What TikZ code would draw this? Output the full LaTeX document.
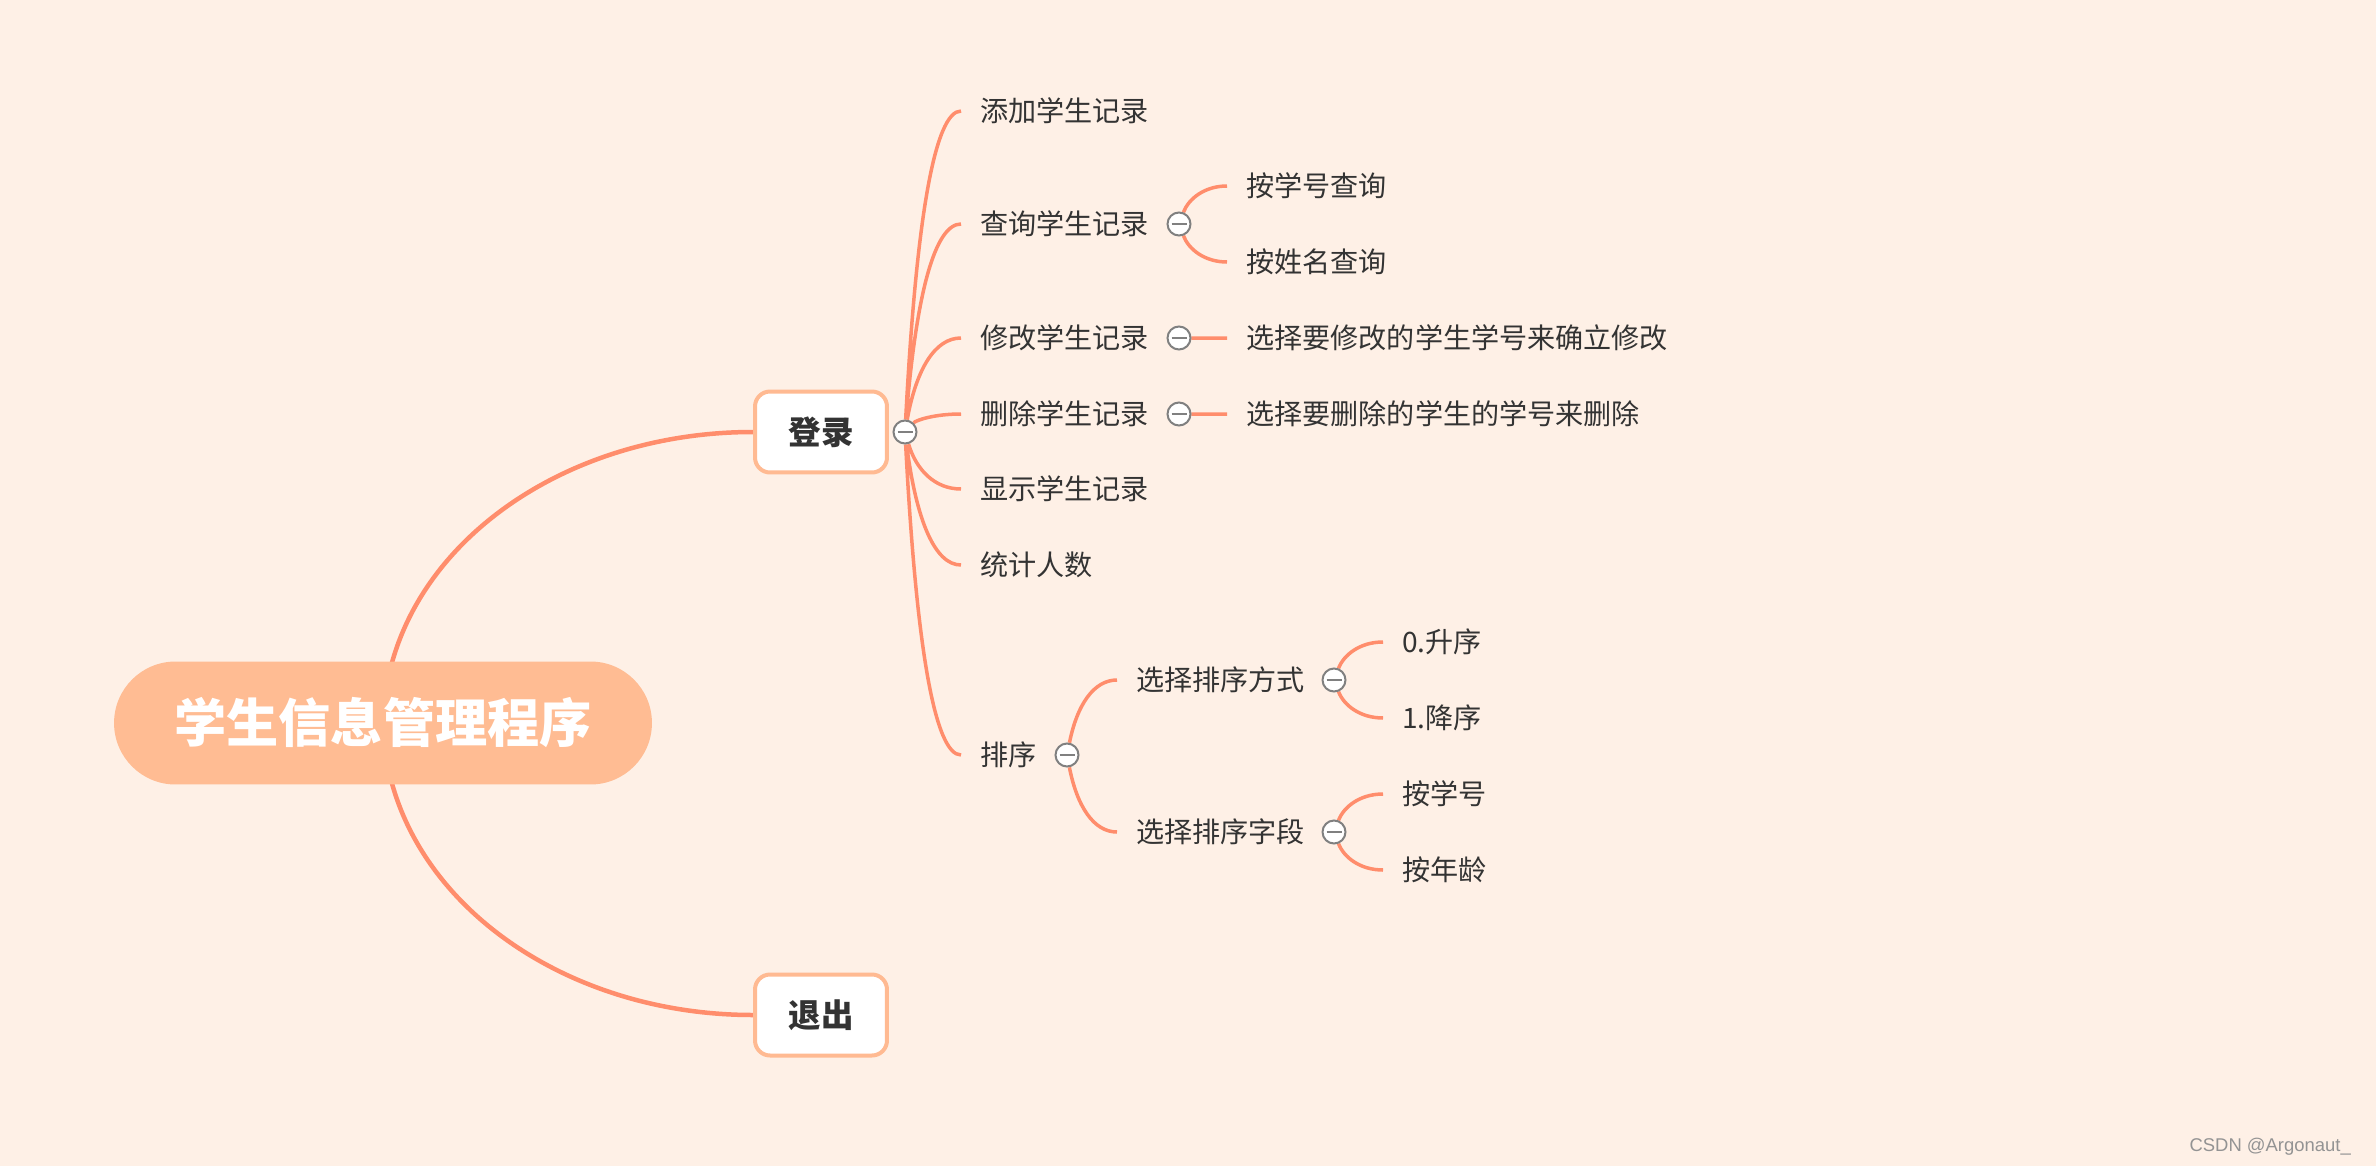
\documentclass[tikz,border=0pt]{standalone}
\usepackage{fontspec}
\setmainfont{Noto Sans CJK SC}
\newfontfamily\markfont{Liberation Sans}
\usetikzlibrary{calc}
\definecolor{paper}{HTML}{FEF0E6}
\definecolor{branchline}{HTML}{FF8D6C}
\definecolor{rootfill}{HTML}{FFBC93}
\definecolor{boxline}{HTML}{FFBA92}
\definecolor{inkdark}{HTML}{333333}
\pgfdeclarelayer{back}
\pgfsetlayers{back,main}

\begin{document}
\begin{tikzpicture}[x = 0.02cm, y = -0.02cm,
            root/.style = {fill = rootfill, text = white, rounded corners = 1.23cm,
                minimum width = 10.76cm, minimum height = 2.46cm,
                font = \fontsize{29.7pt}{32pt}\selectfont\bfseries},
            topic/.style = {draw = boxline, line width = 0.08cm, fill = white, text = inkdark,
                rounded corners = 0.3cm, minimum width = 2.64cm, minimum height = 1.62cm,
                font = \fontsize{18.5pt}{20pt}\selectfont\bfseries},
            leaf/.style = {anchor = west, inner xsep = 0.38cm, inner ysep = 0pt, text = inkdark,
                font = \fontsize{16pt}{18pt}\selectfont},
            knob/.style = {circle, draw = gray, line width = 0.04cm, fill = white,
                minimum size = 0.46cm, inner sep = 0pt,
                path picture = {\draw[gray, line width = 0.04cm]
                    ([xshift = -0.15cm]path picture bounding box.center) --
                    ([xshift = 0.15cm]path picture bounding box.center);}},
            limb/.style = {draw = branchline, line width = 0.09cm},
            twig/.style = {draw = branchline, line width = 0.07cm,
                to path = {.. controls ($(\tikztostart)!2/3!($(\tikztotarget -| \tikztostart)!0.3!(\tikztotarget)$)$)
                    and ($(\tikztotarget)!2/3!($(\tikztotarget -| \tikztostart)!0.3!(\tikztotarget)$)$) .. (\tikztotarget)}}]
            \node[root] (prog) at (383,723) {学生信息管理程序};
            \node[topic] (login) at (821,432) {登录};
            \node[topic] (quit) at (821,1015) {退出};
            \node[knob] (lk) at (905,432) {};
            \node[leaf] (add) at (961,111) {添加学生记录};
            \node[leaf] (find) at (961,224) {查询学生记录};
            \node[leaf] (edit) at (961,338) {修改学生记录};
            \node[leaf] (del) at (961,414) {删除学生记录};
            \node[leaf] (show) at (961,489) {显示学生记录};
            \node[leaf] (count) at (961,565) {统计人数};
            \node[leaf] (sort) at (961,755) {排序};
            \node[knob] (fk) at (1179,224) {};
            \node[knob] (ek) at (1179,338) {};
            \node[knob] (dk) at (1179,414) {};
            \node[knob] (sk) at (1067,755) {};
            \node[leaf] (byid) at (1227,186) {按学号查询};
            \node[leaf] (byname) at (1227,262) {按姓名查询};
            \node[leaf] (editnote) at (1227,338) {选择要修改的学生学号来确立修改};
            \node[leaf] (delnote) at (1227,414) {选择要删除的学生的学号来删除};
            \node[leaf] (mode) at (1117,680) {选择排序方式};
            \node[leaf] (field) at (1117,832) {选择排序字段};
            \node[knob] (mk) at (1334,680) {};
            \node[knob] (fdk) at (1334,832) {};
            \node[leaf] (asc) at (1383,642) {0.升序};
            \node[leaf] (desc) at (1383,718) {1.降序};
            \node[leaf] (sid) at (1383,794) {按学号};
            \node[leaf] (sage) at (1383,870) {按年龄};
            \node[anchor = east, text = gray!85, font = \markfont\fontsize{10.5pt}{12pt}\selectfont] (mark) at (2357,1147) {CSDN @Argonaut\_};
            \begin{pgfonlayer}{back}
            \fill[paper] (0,0) rectangle (2376,1166);
            \draw[limb] (prog.center) .. controls +(4,-165) and +(-200,0) .. (login.west);
            \draw[limb] (prog.center) .. controls +(4,165) and +(-200,0) .. (quit.west);
            \draw[twig] (lk) to (add.west) (lk) to (find.west) (lk) to (edit.west) (lk) to (del.west)
                (lk) to (show.west) (lk) to (count.west) (lk) to (sort.west);
            \draw[twig] (fk) to (byid.west) (fk) to (byname.west) (ek) to (editnote.west) (dk) to (delnote.west);
            \draw[twig] (sk) to (mode.west) (sk) to (field.west);
            \draw[twig] (mk) to (asc.west) (mk) to (desc.west) (fdk) to (sid.west) (fdk) to (sage.west);
            \end{pgfonlayer}
        \end{tikzpicture}
\end{document}
